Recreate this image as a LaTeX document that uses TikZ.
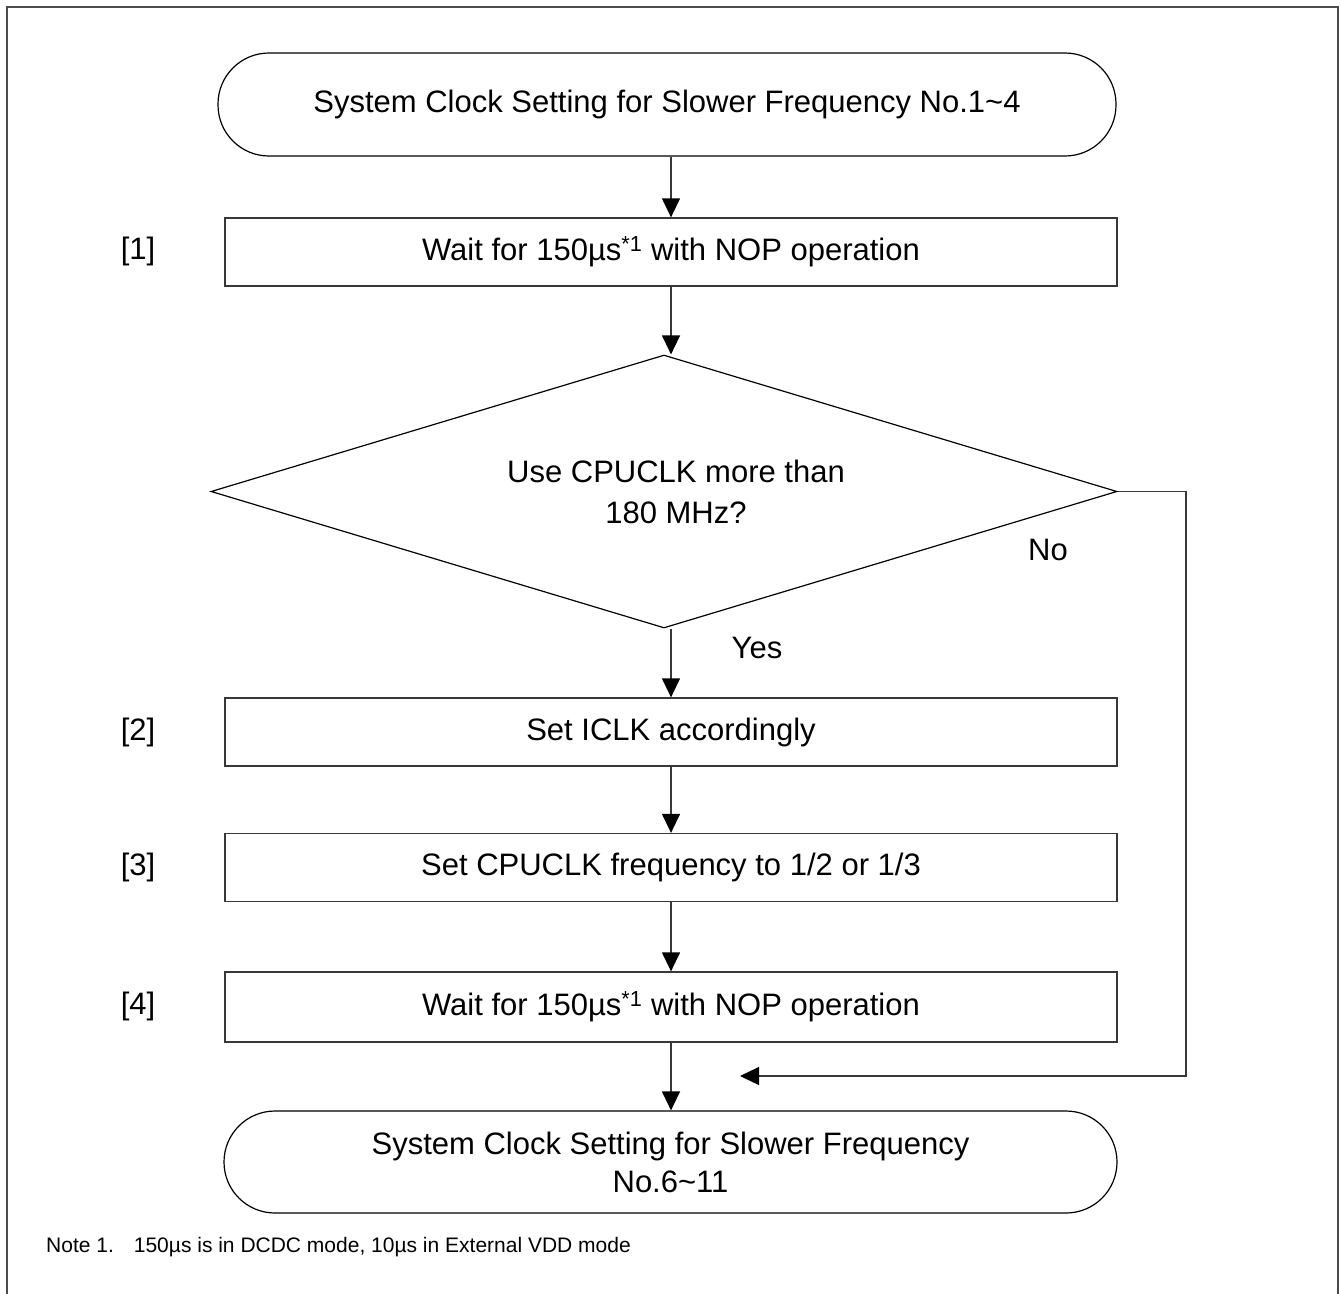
\documentclass[tikz,border=0pt]{standalone}
\usepackage{fontspec}
\setmainfont{Liberation Sans}
\usetikzlibrary{arrows.meta,shapes.geometric}
\begin{document}
\begin{tikzpicture}[x=1pt,y=-1pt,
  line/.style={draw=black!78, line width=1.3pt},
  arr/.style={line, -{Triangle[length=19pt,width=18pt,color=black]}},
  bigfont/.style={font=\fontsize{31}{39}\selectfont},
  term/.style={draw=black, line width=1.2pt, rounded corners=51pt, minimum width=898pt, minimum height=103pt, bigfont, align=center, inner sep=0pt},
  proc/.style={draw=black!78, line width=1.3pt, minimum width=892pt, minimum height=68pt, bigfont, inner sep=0pt},
  dec/.style={diamond, draw=black, line width=1.2pt, minimum width=906pt, minimum height=273pt, aspect=3.3, inner sep=0pt, align=center, font=\fontsize{31}{41}\selectfont},
  steplabel/.style={bigfont},
  branchlabel/.style={bigfont}
]
\useasboundingbox (0,0) rectangle (1340,1293);
\draw[draw=black!70, line width=2pt] (7,1300) -- (7,7) -- (1338,7) -- (1338,1300);

\node[term] (start) at (667,104.5) {System Clock Setting for Slower Frequency No.1\textasciitilde 4};
\node[proc] (b1) at (671,252) {Wait for 150µs\textsuperscript{*1} with NOP operation};
\node[dec] (dec) at (664,491.5) {\hspace*{24pt}Use CPUCLK more than\\\hspace*{24pt}180 MHz?};
\node[proc] (b2) at (671,732) {Set ICLK accordingly};
\node[proc] (b3) at (671,867.5) {Set CPUCLK frequency to 1/2 or 1/3};
\node[proc, minimum height=70pt] (b4) at (671,1007) {Wait for 150µs\textsuperscript{*1} with NOP operation};
\node[term, minimum width=893pt, minimum height=102pt, font=\fontsize{31}{38}\selectfont] (end) at (670.5,1162) {System Clock Setting for Slower Frequency\\No.6\textasciitilde 11};

\node[steplabel] (l1) at (138,251) {[1]};
\node[steplabel] (l2) at (138,732) {[2]};
\node[steplabel] (l3) at (138,867) {[3]};
\node[steplabel] (l4) at (138,1006) {[4]};

\node[branchlabel] (no) at (1048,550) {No};
\node[branchlabel] (yes) at (757,648) {Yes};

\coordinate (nr) at (1186,1076);
\coordinate (ntip) at (740,1076);

\draw[arr] (start.south -| b1.north) -- (b1.north);
\draw[arr] (b1.south) -- (b1.south |- dec.north);
\draw[arr] (b1.south |- dec.south) -- (b2.north);
\draw[arr] (b2.south) -- (b3.north);
\draw[arr] (b3.south) -- (b4.north);
\draw[arr] (b4.south) -- (b4.south |- end.north);
\draw[arr] (dec.east) -| (nr) -- (ntip);

\node[anchor=west, font=\fontsize{21}{25}\selectfont, inner sep=0pt] (note) at (46,1247) {Note 1.\hspace{20pt}150µs is in DCDC mode, 10µs in External VDD mode};
\end{tikzpicture}
\end{document}
